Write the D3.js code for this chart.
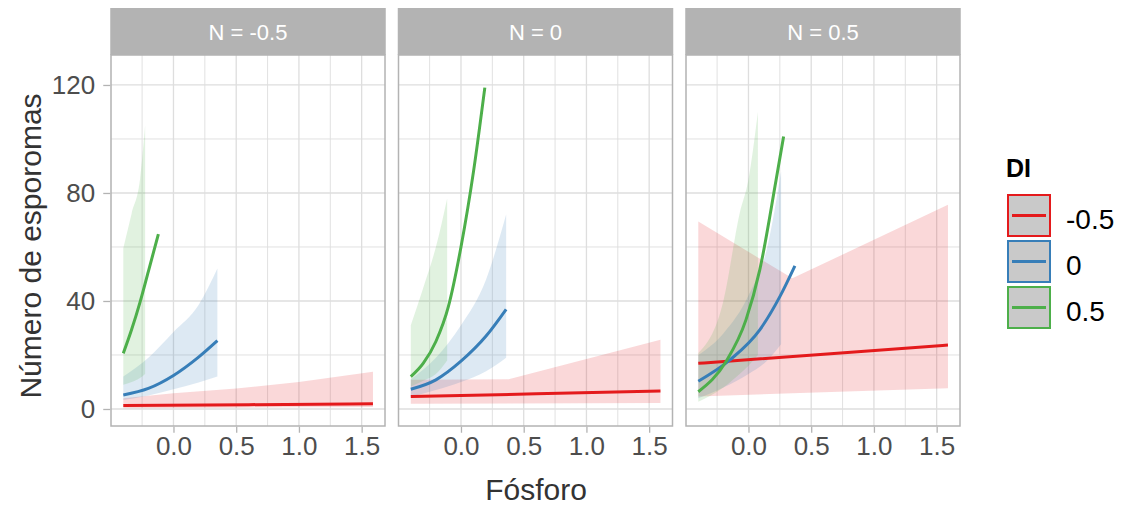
<!DOCTYPE html>
<html>
<head>
<meta charset="utf-8">
<script src="https://cdn.jsdelivr.net/npm/d3@7"></script>
<style>
  html, body { margin: 0; padding: 0; background: #ffffff; }
  svg { display: block; font-family: "Liberation Sans", Arial, sans-serif; }
</style>
</head>
<body>
<svg id="chart" width="1122" height="508"></svg>
<script>
// Facet labels and colour groups
const facets = ["N = -0.5", "N = 0", "N = 0.5"];
const groups = ["-0.5", "0", "0.5"];
const groupColors = ["#E41A1C", "#377EB8", "#4DAF4A"];

// Axis ticks
const xMajor = [0, 0.5, 1, 1.5];
const xMinor = [-0.25, 0.25, 0.75, 1.25];
const yMajor = [0, 40, 80, 120];
const yMinor = [20, 60, 100];

// Fitted curves: [Fósforo, esporomas] per facet, one array per DI group
const fitN1 = [
  [[-0.4, 1.3], [0.6, 1.6], [1.59, 1.9]],
  [[-0.4, 5.2], [-0.2, 7.6], [0, 12.4], [0.2, 19.2], [0.35, 25.3]],
  [[-0.4, 20.6], [-0.333, 29.5], [-0.267, 39.5], [-0.2, 51], [-0.12, 64.8]]
];
const fitN2 = [
  [[-0.4, 4.6], [0.6, 5.6], [1.59, 6.7]],
  [[-0.4, 7.3], [-0.2, 10.8], [0, 17.7], [0.2, 27], [0.36, 36.9]],
  [[-0.4, 12], [-0.3, 17], [-0.2, 25], [-0.1, 38], [0, 60], [0.1, 88], [0.19, 119]]
];
const fitN3 = [
  [[-0.4, 16.9], [0.6, 20.3], [1.59, 23.7]],
  [[-0.4, 10.3], [-0.15, 18.1], [0.09, 29.3], [0.25, 41.6], [0.37, 53]],
  [[-0.4, 6.4], [-0.18, 17.5], [-0.02, 33], [0.09, 51.5], [0.22, 84.8], [0.28, 100.9]]
];

// Confidence bands: [Fósforo, lower, upper] per facet, one array per DI group
const bandN1 = [
  [[-0.4, 0.3, 4], [0, 0.4, 5.8], [0.5, 0.5, 7.6], [1.0, 0.6, 10], [1.59, 0.7, 13.8]],
  [[-0.4, 3.3, 12], [-0.2, 5, 19], [0, 7.3, 28.5], [0.2, 9.8, 38.5], [0.35, 12, 52]],
  [[-0.4, 9, 59.5], [-0.333, 10, 72.5], [-0.267, 11.5, 85], [-0.226, 13, 105]]
];
const bandN2 = [
  [[-0.4, 1.9, 10.8], [0.38, 2, 11], [1.59, 2.2, 25.6]],
  [[-0.4, 4.5, 11], [-0.2, 7, 19], [0, 10, 31], [0.2, 14, 48], [0.36, 19, 72]],
  [[-0.4, 8.3, 31], [-0.3, 10.5, 45], [-0.2, 13, 60], [-0.11, 18, 78]]
];
const bandN3 = [
  [[-0.4, 4.6, 69.4], [0.35, 5.8, 48.4], [1.59, 7.7, 75.6]],
  [[-0.4, 4, 20], [-0.2, 8, 28], [0, 13, 42], [0.15, 18, 60], [0.26, 24, 88]],
  [[-0.4, 2.7, 20.7], [-0.2, 8, 40], [-0.07, 13, 72.5], [0, 16, 85], [0.075, 20, 110]]
];

const fits = [fitN1, fitN2, fitN3];
const bands = [bandN1, bandN2, bandN3];

const svg = d3.select("#chart");
svg.append("rect").attr("width", 1122).attr("height", 508).attr("fill", "#ffffff");

// Layout
const panelLeft0 = 111, panelW = 274, panelGap = 13.5;
const stripTop = 8, panelTop = 55, panelBottom = 426;

const y = d3.scaleLinear().domain([-6.3, 131.1]).range([panelBottom, panelTop]);

const gridCol = "#dedede", borderCol = "#b3b3b3";
// the -0.5 group bands are straight segments; the others follow curved fits
const bandCurves = [d3.curveLinear, d3.curveMonotoneX, d3.curveMonotoneX];

facets.forEach((label, p) => {
  const left = panelLeft0 + p * (panelW + panelGap);
  const x = d3.scaleLinear().domain([-0.498, 1.686]).range([left, left + panelW]);
  const g = svg.append("g");

  // grid
  g.selectAll(".ymin").data(yMinor).join("line")
    .attr("x1", left).attr("x2", left + panelW)
    .attr("y1", d => y(d)).attr("y2", d => y(d))
    .attr("stroke", gridCol).attr("stroke-width", 0.9);
  g.selectAll(".xmin").data(xMinor).join("line")
    .attr("y1", panelTop).attr("y2", panelBottom)
    .attr("x1", d => x(d)).attr("x2", d => x(d))
    .attr("stroke", gridCol).attr("stroke-width", 0.9);
  g.selectAll(".ymaj").data(yMajor).join("line")
    .attr("x1", left).attr("x2", left + panelW)
    .attr("y1", d => y(d)).attr("y2", d => y(d))
    .attr("stroke", gridCol).attr("stroke-width", 1.3);
  g.selectAll(".xmaj").data(xMajor).join("line")
    .attr("y1", panelTop).attr("y2", panelBottom)
    .attr("x1", d => x(d)).attr("x2", d => x(d))
    .attr("stroke", gridCol).attr("stroke-width", 1.3);

  // clip
  const clipId = "clip" + p;
  svg.append("clipPath").attr("id", clipId).append("rect")
    .attr("x", left).attr("y", panelTop).attr("width", panelW).attr("height", panelBottom - panelTop);
  const data = g.append("g").attr("clip-path", `url(#${clipId})`);

  const line = d3.line().x(d => x(d[0])).y(d => y(d[1])).curve(d3.curveMonotoneX);

  bands[p].forEach((b, i) => {
    const area = d3.area().x(d => x(d[0])).y0(d => y(d[1])).y1(d => y(d[2])).curve(bandCurves[i]);
    data.append("path").attr("d", area(b))
      .attr("fill", groupColors[i]).attr("fill-opacity", 0.17);
  });
  fits[p].forEach((f, i) => {
    data.append("path").attr("d", line(f))
      .attr("fill", "none").attr("stroke", groupColors[i]).attr("stroke-width", 3);
  });

  // border
  g.append("rect").attr("x", left).attr("y", panelTop).attr("width", panelW).attr("height", panelBottom - panelTop)
    .attr("fill", "none").attr("stroke", borderCol).attr("stroke-width", 1.5);

  // strip
  g.append("rect").attr("x", left - 0.75).attr("y", stripTop).attr("width", panelW + 1.5).attr("height", panelTop - stripTop)
    .attr("fill", "#b3b3b3");
  g.append("text").attr("x", left + panelW / 2).attr("y", 40).attr("text-anchor", "middle")
    .attr("fill", "#ffffff").attr("font-size", 22).text(label);

  // x axis
  const xAxis = d3.axisBottom(x).tickValues(xMajor).tickFormat(d3.format(".1f")).tickSize(6).tickPadding(4);
  const ax = g.append("g").attr("transform", `translate(0,${panelBottom + 0.75})`).call(xAxis);
  ax.select(".domain").remove();
  ax.selectAll(".tick line").attr("stroke", borderCol).attr("stroke-width", 1.3);
  ax.selectAll(".tick text").attr("fill", "#4d4d4d").attr("font-size", 26)
    .attr("font-family", "Liberation Sans, Arial, sans-serif").attr("dy", "0.72em");

  if (p === 0) {
    const yAxis = d3.axisLeft(y).tickValues(yMajor).tickSize(7).tickPadding(8);
    const ay = g.append("g").attr("transform", `translate(${left - 0.75},0)`).call(yAxis);
    ay.select(".domain").remove();
    ay.selectAll(".tick line").attr("stroke", borderCol).attr("stroke-width", 1.3);
    ay.selectAll(".tick text").attr("fill", "#4d4d4d").attr("font-size", 26)
      .attr("font-family", "Liberation Sans, Arial, sans-serif");
  }
});

// axis titles
svg.append("text").attr("x", 536).attr("y", 500).attr("text-anchor", "middle")
  .attr("fill", "#333333").attr("font-size", 30).text("Fósforo");
svg.append("text").attr("transform", "translate(41,246) rotate(-90)").attr("text-anchor", "middle")
  .attr("fill", "#333333").attr("font-size", 30).text("Número de esporomas");

// legend
const legend = svg.append("g");
legend.append("text").attr("x", 1006).attr("y", 177).attr("font-size", 25).attr("font-weight", "bold")
  .attr("fill", "#000000").text("DI");
const keyY = d3.scalePoint().domain(groups).range([194, 286]);
groups.forEach((gname, i) => {
  const ky = keyY(gname);
  legend.append("rect").attr("x", 1008).attr("y", ky + 1).attr("width", 42).attr("height", 41)
    .attr("fill", "#c9c9c9").attr("stroke", groupColors[i]).attr("stroke-width", 2);
  legend.append("line").attr("x1", 1012).attr("x2", 1046).attr("y1", ky + 21.5).attr("y2", ky + 21.5)
    .attr("stroke", groupColors[i]).attr("stroke-width", 3);
  legend.append("text").attr("x", 1066).attr("y", ky + 35).attr("font-size", 28)
    .attr("fill", "#000000").text(gname);
});
</script>
</body>
</html>
